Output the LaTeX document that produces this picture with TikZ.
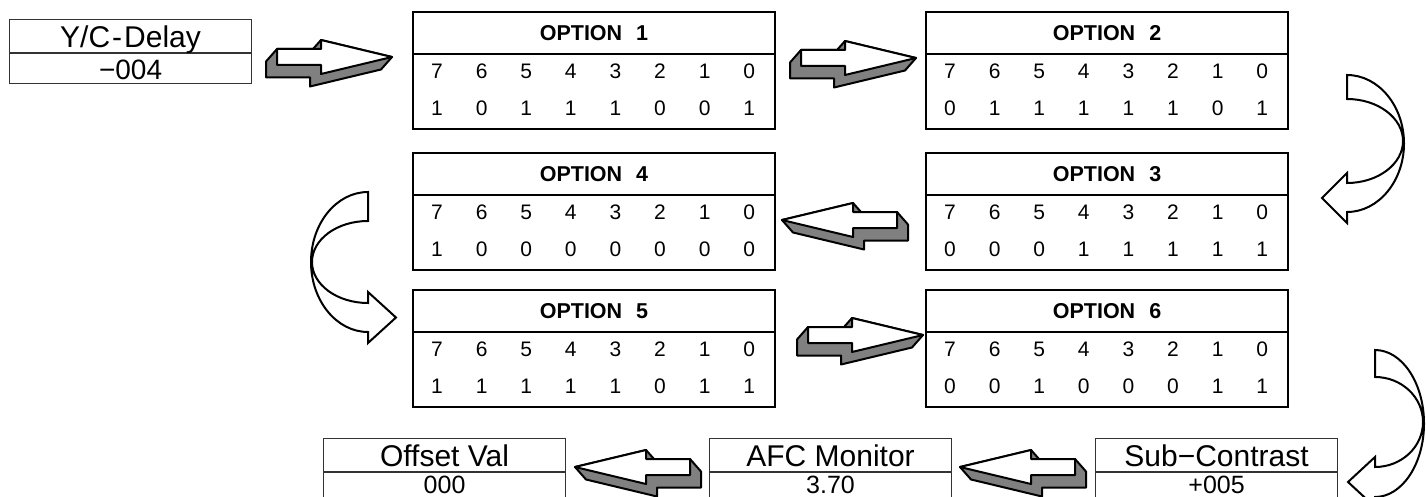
\documentclass[tikz,border=0pt]{standalone}
\usepackage{fontspec}
\setmainfont{Liberation Sans}
\tikzset{
  optbox/.style={draw, line width=2pt, minimum width=362pt, minimum height=117pt, inner sep=0pt, anchor=north west},
  valbox/.style={draw=black!80, line width=1.1pt, minimum width=242pt, minimum height=64pt, inner sep=0pt, anchor=north west},
  bigtxt/.style={font=\fontsize{30}{30}\selectfont, inner sep=0pt, anchor=base},
  valtxt/.style={font=\fontsize{28}{28}\selectfont, inner sep=0pt, anchor=base},
  lowtxt/.style={font=\fontsize{25}{25}\selectfont, inner sep=0pt, anchor=base},
  headtxt/.style={font=\bfseries\fontsize{21.5}{21.5}\selectfont, inner sep=0pt},
  bittxt/.style={font=\fontsize{21}{21}\selectfont, inner sep=0pt},
  bendarrow/.style={draw, line width=2pt, fill=white, line join=miter},
  pics/blockarrow/.style={code={
    % shadow side
    \draw[line width=2pt, fill=black!50, line join=round]
      (0,0) -- (-71,-17) -- (-79,-8) -- (-115,-8) -- (-126,4.5) -- (-126,20.5)
      -- (-82,20.5) -- (-82,29.5) -- (-11,12.5) -- cycle;
    % front face
    \draw[line width=2pt, fill=white, line join=round]
      (0,0) -- (-71,-17) -- (-71,-8) -- (-115,-8) -- (-115,8) -- (-71,8) -- (-71,17) -- cycle;
  }}
}
\begin{document}
\begin{tikzpicture}[x=1pt, y=-1pt]
    \path[use as bounding box] (0,0) rectangle (1426,497);
    \clip (0,0) rectangle (1426,497);

    % Option registers
    \foreach \n/\x/\y/\bits in {1/412/11/{1,0,1,1,1,0,0,1}, 2/925/11/{0,1,1,1,1,1,0,1},
                                4/412/152/{1,0,0,0,0,0,0,0}, 3/925/152/{0,0,0,1,1,1,1,1},
                                5/412/289/{1,1,1,1,1,0,1,1}, 6/925/289/{0,0,1,0,0,0,1,1}}{
      \node[optbox] (opt\n) at (\x,\y) {};
      \draw[line width=2pt] ([yshift=-43pt]opt\n.north west) -- ([yshift=-43pt]opt\n.north east);
      \node[headtxt] (opt\n-head) at ([yshift=-22pt]opt\n.north) {OPTION\hspace{14pt}\n};
      \foreach \b [count=\i from 0] in {7,6,...,0}
        \node[bittxt] (opt\n-bit\b) at ([xshift={(25+44.6*\i)*1pt}, yshift=-60pt]opt\n.north west) {\b};
      \foreach \v [count=\i from 0] in \bits
        \node[bittxt] (opt\n-val\i) at ([xshift={(25+44.6*\i)*1pt}, yshift=-97pt]opt\n.north west) {\v};
    }

    % Y/C-Delay
    \node[valbox] (yc) at (9,19) {};
    \draw[line width=1.1pt, black!80] ([yshift=-34pt]yc.north west) -- ([yshift=-34pt]yc.north east);
    \node[bigtxt] (yc-name) at ([yshift=-28.5pt]yc.north) {Y/C\kern2pt-\kern2pt Delay};
    \node[valtxt] (yc-val) at ([yshift=-60.5pt]yc.north) {−004};

    % Offset Val
    \node[valbox] (ofs) at (323,438) {};
    \draw[line width=1.1pt, black!80] ([yshift=-34pt]ofs.north west) -- ([yshift=-34pt]ofs.north east);
    \node[bigtxt] (ofs-name) at ([yshift=-28.5pt]ofs.north) {Offset Val};
    \node[lowtxt] (ofs-val) at ([yshift=-55pt]ofs.north) {000};

    % AFC Monitor
    \node[valbox] (afc) at (709,438) {};
    \draw[line width=1.1pt, black!80] ([yshift=-34pt]afc.north west) -- ([yshift=-34pt]afc.north east);
    \node[bigtxt] (afc-name) at ([yshift=-28.5pt]afc.north) {AFC Monitor};
    \node[lowtxt] (afc-val) at ([yshift=-55pt]afc.north) {3.70};

    % Sub-Contrast
    \node[valbox] (sub) at (1095,438) {};
    \draw[line width=1.1pt, black!80] ([yshift=-34pt]sub.north west) -- ([yshift=-34pt]sub.north east);
    \node[bigtxt] (sub-name) at ([yshift=-28.5pt]sub.north) {Sub−Contrast};
    \node[lowtxt] (sub-val) at ([yshift=-55pt]sub.north) {+005};

    % 3D block arrows
    \pic at (392,57) {blockarrow};
    \pic at (916,58) {blockarrow};
    \pic[xscale=-1] at (782,220) {blockarrow};
    \pic at (923,335) {blockarrow};
    \pic[xscale=-1] at (960,467) {blockarrow};
    \pic[xscale=-1] at (575,467) {blockarrow};

    % Curved arrows
    \draw[bendarrow] (1347,75) -- (1347,99)
      .. controls (1378,99) and (1403,118) .. (1403,141)
      .. controls (1403,164) and (1378,183) .. (1347,183)
      -- (1347,173) -- (1322,198) -- (1347,223) -- (1347,212)
      .. controls (1378.5,212) and (1404,181) .. (1404,143.5)
      .. controls (1404,106) and (1378.5,75) .. (1347,75) -- cycle;
    \draw[bendarrow] (368,192) -- (368,221)
      .. controls (337,221) and (312,239.4) .. (312,262)
      .. controls (312,284.6) and (337,303) .. (368,303)
      -- (368,292) -- (396,317.5) -- (368,343) -- (368,332)
      .. controls (336.5,332) and (311,300.6) .. (311,262)
      .. controls (311,223.4) and (336.5,192) .. (368,192) -- cycle;
    \draw[bendarrow] (1375,350) -- (1375,377)
      .. controls (1401.5,377) and (1423,397.2) .. (1423,422)
      .. controls (1423,446.8) and (1401.5,467) .. (1375,467)
      -- (1375,457) -- (1348,482) -- (1375,507) -- (1375,497)
      .. controls (1402,497) and (1424,464) .. (1424,423.5)
      .. controls (1424,383) and (1402,350) .. (1375,350) -- cycle;
\end{tikzpicture}
\end{document}
